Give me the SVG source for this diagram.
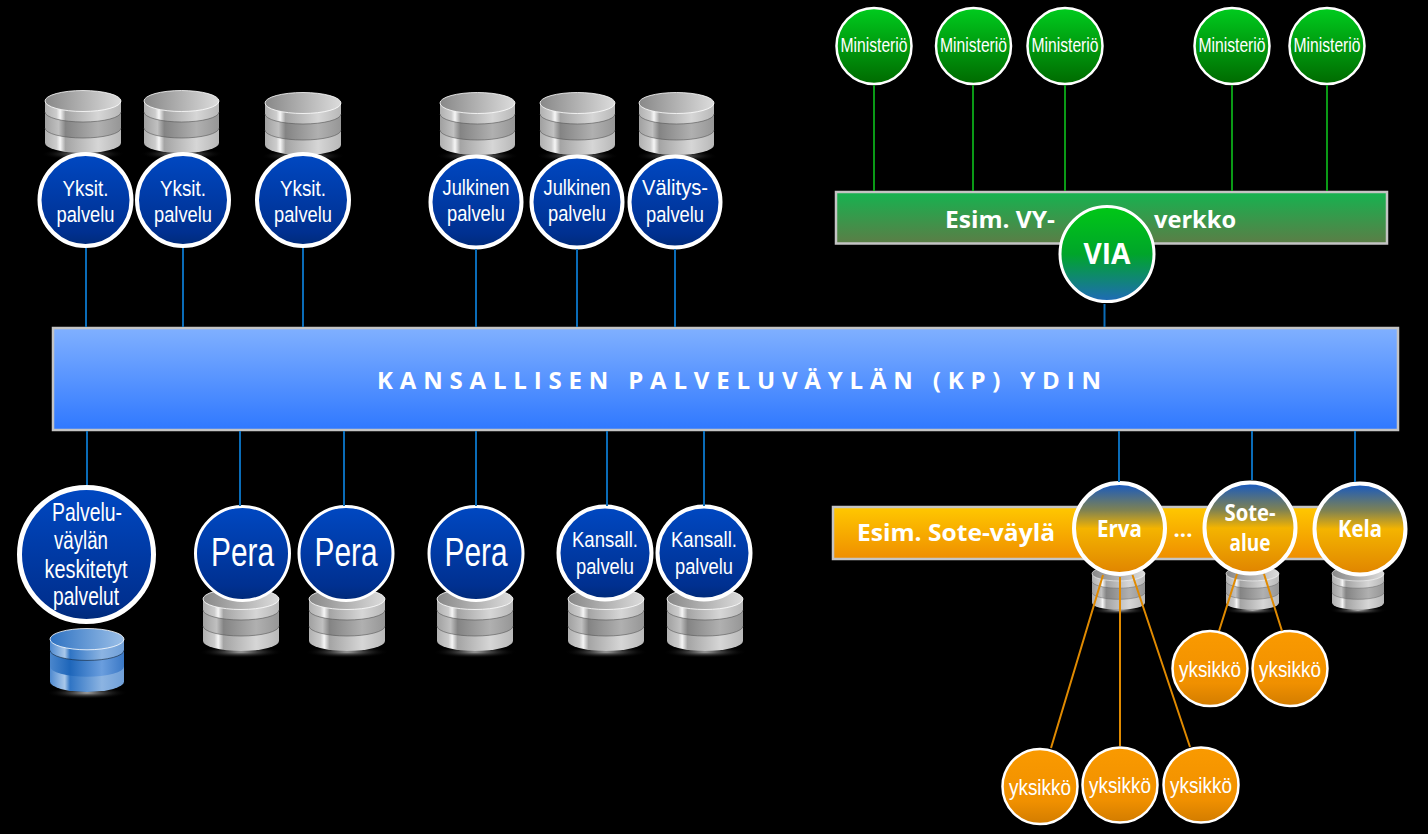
<svg xmlns="http://www.w3.org/2000/svg" xmlns:xlink="http://www.w3.org/1999/xlink" width="1428" height="834" viewBox="0 0 1428 834">
<style>
text{fill:#fff;text-anchor:middle}
.n{font-family:"Liberation Sans",Arial,sans-serif;font-size:22px}
.m{font-family:"Liberation Sans",Arial,sans-serif;font-size:21px}
.p{font-family:"Liberation Sans",Arial,sans-serif;font-size:40px}
.c{font-family:"Liberation Sans",Arial,sans-serif;font-size:25px}
.b{font-family:"Open Sans",sans-serif;font-weight:700;font-size:24px}
.blue{fill:url(#gBlue);stroke:#fff;stroke-width:4}
.green{fill:url(#gGreen);stroke:#fff;stroke-width:2.5}
.via{fill:url(#gVia);stroke:#fff;stroke-width:3}
.erva{fill:url(#gErva);stroke:#fff;stroke-width:4}
.org{fill:url(#gOrg);stroke:#fff;stroke-width:2.5}
.bar{stroke:#c4c4c4;stroke-width:2.5}
.lb{stroke:#0a6cb8;stroke-width:2;fill:none}
.lg{stroke:#0a9a16;stroke-width:2;fill:none}
.lo{stroke:#e08a00;stroke-width:2;fill:none}
</style>
<defs>
<linearGradient id="gBlue" x1="0" y1="0" x2="0" y2="1"><stop offset="0" stop-color="#0048c2"/><stop offset=".85" stop-color="#003090"/><stop offset="1" stop-color="#002a78"/></linearGradient>
<linearGradient id="gGreen" x1="0" y1="0" x2="0" y2="1"><stop offset="0" stop-color="#00cc1e"/><stop offset="1" stop-color="#006a00"/></linearGradient>
<linearGradient id="gVia" x1="0" y1="0" x2="0" y2="1"><stop offset="0" stop-color="#00c816"/><stop offset=".5" stop-color="#00a52a"/><stop offset="1" stop-color="#1f6ab8"/></linearGradient>
<linearGradient id="gErva" x1="0" y1="0" x2="0" y2="1"><stop offset="0" stop-color="#1458c4"/><stop offset=".3" stop-color="#7f8252"/><stop offset=".5" stop-color="#f4b400"/><stop offset="1" stop-color="#e08400"/></linearGradient>
<linearGradient id="gOrg" x1="0" y1="0" x2="0" y2="1"><stop offset="0" stop-color="#fa9a00"/><stop offset=".7" stop-color="#f09000"/><stop offset="1" stop-color="#d27c00"/></linearGradient>
<linearGradient id="gMain" x1="0" y1="0" x2="0" y2="1"><stop offset="0" stop-color="#80b0ff"/><stop offset="1" stop-color="#2f78ff"/></linearGradient>
<linearGradient id="gBarG" x1="0" y1="0" x2="0" y2="1"><stop offset="0" stop-color="#15b350"/><stop offset="1" stop-color="#5b7d46"/></linearGradient>
<linearGradient id="gBarO" x1="0" y1="0" x2="0" y2="1"><stop offset="0" stop-color="#ffc800"/><stop offset="1" stop-color="#ef8e00"/></linearGradient>
<linearGradient id="dbBody"><stop offset="0" stop-color="#b0b0b0"/><stop offset=".15" stop-color="#cccccc"/><stop offset=".2" stop-color="#f6f6f6"/><stop offset=".27" stop-color="#a4a4a4"/><stop offset=".7" stop-color="#d6d6d6"/><stop offset="1" stop-color="#b8b8b8"/></linearGradient>
<linearGradient id="dbBand"><stop offset="0" stop-color="#a0a0a0"/><stop offset=".18" stop-color="#c0c0c0"/><stop offset=".27" stop-color="#848484"/><stop offset=".7" stop-color="#b0b0b0"/><stop offset="1" stop-color="#969696"/></linearGradient>
<linearGradient id="dbTop"><stop offset="0" stop-color="#888"/><stop offset="1" stop-color="#dcdcdc"/></linearGradient>
<linearGradient id="dbBodyB"><stop offset="0" stop-color="#4f8ad0"/><stop offset=".2" stop-color="#a9c8ea"/><stop offset=".27" stop-color="#2f74c4"/><stop offset=".7" stop-color="#8cb4e2"/><stop offset="1" stop-color="#6f9fd8"/></linearGradient>
<linearGradient id="dbBandB"><stop offset="0" stop-color="#4a86cc"/><stop offset=".27" stop-color="#1e66ba"/><stop offset=".7" stop-color="#6a9ede"/><stop offset="1" stop-color="#3a78c6"/></linearGradient>
<linearGradient id="dbTopB"><stop offset="0" stop-color="#2e72c2"/><stop offset="1" stop-color="#9cc0e8"/></linearGradient>
<radialGradient id="dbSh"><stop offset="0" stop-color="#aaa"/><stop offset="1" stop-color="#000" stop-opacity="0"/></radialGradient>
<symbol id="db" viewBox="0 0 76 72" preserveAspectRatio="none" overflow="visible">
<ellipse cx="38" cy="64" rx="42" ry="6" fill="url(#dbSh)"/>
<path d="M0 11V53A38 10 0 0 0 76 53V11Z" fill="url(#dbBody)"/>
<path d="M0 22A38 10 0 0 0 76 22V38A38 10 0 0 1 0 38Z" fill="url(#dbBand)"/>
<path d="M0 22A38 10 0 0 0 76 22M0 38A38 10 0 0 0 76 38" fill="none" stroke="#555" stroke-width=".6"/>
<ellipse cx="38" cy="11" rx="38" ry="10.500" fill="url(#dbTop)" stroke="#fff" stroke-width=".8"/>
</symbol>
<symbol id="dbBlue" viewBox="0 0 76 72" preserveAspectRatio="none" overflow="visible">
<ellipse cx="38" cy="64" rx="42" ry="6" fill="url(#dbSh)"/>
<path d="M0 11V53A38 10 0 0 0 76 53V11Z" fill="url(#dbBodyB)"/>
<path d="M0 22A38 10 0 0 0 76 22V38A38 10 0 0 1 0 38Z" fill="url(#dbBandB)"/>
<path d="M0 22A38 10 0 0 0 76 22" fill="none" stroke="#123" stroke-width=".6"/>
<ellipse cx="38" cy="11" rx="38" ry="10.500" fill="url(#dbTopB)" stroke="#fff" stroke-width=".8"/>
</symbol>
</defs>
<rect width="1428" height="834" fill="#000"/>

<g id="bar-core"><rect class="bar" x="53" y="328" width="1345" height="102" fill="url(#gMain)"/>
<text class="b" x="377" y="389" style="text-anchor:start;font-size:24px" textLength="724">KANSALLISEN PALVELUVÄYLÄN (KP) YDIN</text></g>
<g id="bar-vy"><rect class="bar" x="836" y="192" width="551" height="51.500" fill="url(#gBarG)"/>
<text class="b" x="1000" y="228" textLength="110" lengthAdjust="spacingAndGlyphs">Esim. VY-</text>
<text class="b" x="1195" y="228" textLength="82" lengthAdjust="spacingAndGlyphs">verkko</text></g>
<g id="bar-sote"><rect class="bar" x="833" y="507" width="510" height="52" fill="url(#gBarO)"/>
<text class="b" x="956" y="541" textLength="198" lengthAdjust="spacingAndGlyphs">Esim. Sote-väylä</text>
<text x="1183" y="537" style="font-family:'Open Sans',sans-serif;font-weight:700;font-size:22px" textLength="19">...</text></g>

<g id="yksit1"><use href="#db" x="45" y="90" width="76" height="72"/><circle class="blue" cx="85.500" cy="200" r="46"/><text class="n" x="85.500" y="196" textLength="46" lengthAdjust="spacingAndGlyphs">Yksit.</text><text class="n" x="85.500" y="222" textLength="58" lengthAdjust="spacingAndGlyphs">palvelu</text></g>
<g id="yksit2"><use href="#db" x="144" y="90" width="75" height="72"/><circle class="blue" cx="183" cy="200" r="46"/><text class="n" x="183" y="196" textLength="46" lengthAdjust="spacingAndGlyphs">Yksit.</text><text class="n" x="183" y="222" textLength="58" lengthAdjust="spacingAndGlyphs">palvelu</text></g>
<g id="yksit3"><use href="#db" x="265" y="92" width="76" height="72"/><circle class="blue" cx="303" cy="200" r="46"/><text class="n" x="303" y="196" textLength="46" lengthAdjust="spacingAndGlyphs">Yksit.</text><text class="n" x="303" y="222" textLength="58" lengthAdjust="spacingAndGlyphs">palvelu</text></g>
<g id="julkinen1"><use href="#db" x="440" y="92" width="75" height="72"/><circle class="blue" cx="476" cy="202" r="45.500"/><text class="n" x="476" y="195" textLength="67" lengthAdjust="spacingAndGlyphs">Julkinen</text><text class="n" x="476" y="221" textLength="58" lengthAdjust="spacingAndGlyphs">palvelu</text></g>
<g id="julkinen2"><use href="#db" x="540" y="92" width="75" height="72"/><circle class="blue" cx="577" cy="202" r="45.500"/><text class="n" x="577" y="195" textLength="67" lengthAdjust="spacingAndGlyphs">Julkinen</text><text class="n" x="577" y="221" textLength="58" lengthAdjust="spacingAndGlyphs">palvelu</text></g>
<g id="valitys"><use href="#db" x="639" y="92" width="75" height="72"/><circle class="blue" cx="675" cy="202" r="45.500"/><text class="n" x="675" y="195" textLength="66" lengthAdjust="spacingAndGlyphs">Välitys-</text><text class="n" x="675" y="222" textLength="58" lengthAdjust="spacingAndGlyphs">palvelu</text></g>

<g id="min1"><ellipse class="green" cx="874" cy="46" rx="37.500" ry="38"/><text class="m" x="874" y="52" textLength="67" lengthAdjust="spacingAndGlyphs">Ministeriö</text></g>
<g id="min2"><ellipse class="green" cx="973.500" cy="46" rx="37.500" ry="38"/><text class="m" x="973.500" y="52" textLength="67" lengthAdjust="spacingAndGlyphs">Ministeriö</text></g>
<g id="min3"><ellipse class="green" cx="1065" cy="46" rx="37.500" ry="38"/><text class="m" x="1065" y="52" textLength="67" lengthAdjust="spacingAndGlyphs">Ministeriö</text></g>
<g id="min4"><ellipse class="green" cx="1232" cy="46" rx="37.500" ry="38"/><text class="m" x="1232" y="52" textLength="67" lengthAdjust="spacingAndGlyphs">Ministeriö</text></g>
<g id="min5"><ellipse class="green" cx="1327" cy="46" rx="37.500" ry="38"/><text class="m" x="1327" y="52" textLength="67" lengthAdjust="spacingAndGlyphs">Ministeriö</text></g>
<g id="via"><ellipse class="via" cx="1107" cy="254" rx="47" ry="47.500"/><text class="b" x="1107" y="264" style="font-size:29px" textLength="47" lengthAdjust="spacingAndGlyphs">VIA</text></g>

<g id="keskitetyt"><use href="#dbBlue" x="50" y="628" width="74" height="73"/><circle class="blue" cx="86.500" cy="554.500" r="67" style="stroke-width:5"/>
<text class="c" x="87" y="521" textLength="70" lengthAdjust="spacingAndGlyphs">Palvelu-</text><text class="c" x="81" y="549" textLength="54" lengthAdjust="spacingAndGlyphs">väylän</text><text class="c" x="86" y="578" textLength="83" lengthAdjust="spacingAndGlyphs">keskitetyt</text><text class="c" x="86" y="605" textLength="66" lengthAdjust="spacingAndGlyphs">palvelut</text></g>
<g id="pera1"><use href="#db" x="203" y="588" width="76" height="72"/><circle class="blue" cx="242.500" cy="553.500" r="47" style="stroke-width:3"/><text class="p" x="242.500" y="566" textLength="63" lengthAdjust="spacingAndGlyphs">Pera</text></g>
<g id="pera2"><use href="#db" x="309" y="588" width="76" height="72"/><circle class="blue" cx="346" cy="553.500" r="47" style="stroke-width:3"/><text class="p" x="346" y="566" textLength="63" lengthAdjust="spacingAndGlyphs">Pera</text></g>
<g id="pera3"><use href="#db" x="437" y="588" width="76" height="72"/><circle class="blue" cx="476" cy="553.500" r="47" style="stroke-width:3"/><text class="p" x="476" y="566" textLength="63" lengthAdjust="spacingAndGlyphs">Pera</text></g>
<g id="kansall1"><use href="#db" x="568" y="588" width="76" height="72"/><circle class="blue" cx="605" cy="553" r="46.500"/><text class="n" x="605" y="547" textLength="66" lengthAdjust="spacingAndGlyphs">Kansall.</text><text class="n" x="605" y="574" textLength="58" lengthAdjust="spacingAndGlyphs">palvelu</text></g>
<g id="kansall2"><use href="#db" x="667" y="588" width="76" height="72"/><circle class="blue" cx="704" cy="553" r="46.500"/><text class="n" x="704" y="547" textLength="66" lengthAdjust="spacingAndGlyphs">Kansall.</text><text class="n" x="704" y="574" textLength="58" lengthAdjust="spacingAndGlyphs">palvelu</text></g>

<g id="erva"><use href="#db" x="1092" y="566" width="53" height="50"/><circle class="erva" cx="1119.500" cy="528.500" r="45.500"/><text class="b" x="1119.500" y="537" textLength="45" lengthAdjust="spacingAndGlyphs">Erva</text></g>
<g id="sote"><use href="#db" x="1226" y="566" width="53" height="50"/><circle class="erva" cx="1250" cy="528" r="45.500"/><text class="b" x="1250" y="521" textLength="51" lengthAdjust="spacingAndGlyphs">Sote-</text><text class="b" x="1250" y="551" textLength="41" lengthAdjust="spacingAndGlyphs">alue</text></g>
<g id="kela"><use href="#db" x="1332" y="566" width="52" height="50"/><circle class="erva" cx="1360" cy="529" r="45.500"/><text class="b" x="1360" y="537" textLength="44" lengthAdjust="spacingAndGlyphs">Kela</text></g>

<g id="yks1"><ellipse class="org" cx="1210" cy="668.500" rx="37.500" ry="37.500"/><text class="n" x="1210" y="677" textLength="62" lengthAdjust="spacingAndGlyphs">yksikkö</text></g>
<g id="yks2"><ellipse class="org" cx="1290" cy="668.500" rx="37.500" ry="37.500"/><text class="n" x="1290" y="677" textLength="62" lengthAdjust="spacingAndGlyphs">yksikkö</text></g>
<g id="yks3"><ellipse class="org" cx="1040" cy="786.500" rx="37.500" ry="37.500"/><text class="n" x="1040" y="795" textLength="62" lengthAdjust="spacingAndGlyphs">yksikkö</text></g>
<g id="yks4"><ellipse class="org" cx="1120" cy="785" rx="37.500" ry="37.500"/><text class="n" x="1120" y="793" textLength="62" lengthAdjust="spacingAndGlyphs">yksikkö</text></g>
<g id="yks5"><ellipse class="org" cx="1201" cy="785" rx="37.500" ry="37.500"/><text class="n" x="1201" y="793" textLength="62" lengthAdjust="spacingAndGlyphs">yksikkö</text></g>

<g id="connectors">
<path class="lb" d="M86 248V327M183 248V327M303 248V327M476 249V327M577 249V327M675 249V327M1104.500 304V327M87 431V485M240 431V506M344 431V506M476 431V506M607 431V506M704 431V506M1119 431V482M1252 431V480M1355 431V482"/>
<path class="lg" d="M874 85V191M973 85V191M1065 85V191M1232 85V191M1327 85V191"/>
<path class="lo" d="M1103 575L1051 748M1120 577V746M1132.500 575L1190 747M1237 574L1219 631M1264 574L1282 631"/>
</g>
</svg>
